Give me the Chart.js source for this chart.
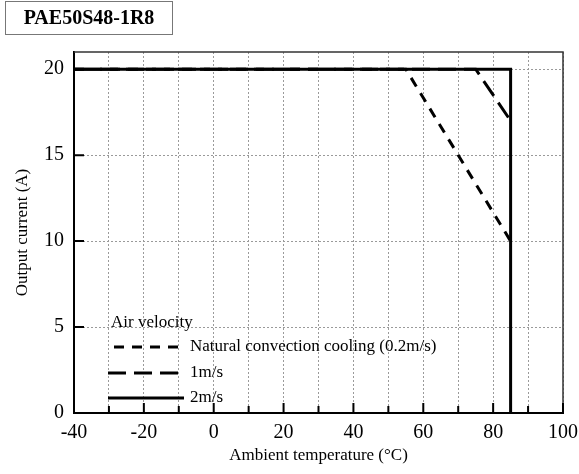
<!DOCTYPE html>
<html>
<head>
<meta charset="utf-8">
<script src="https://cdn.jsdelivr.net/npm/chart.js@4/dist/chart.umd.min.js"></script>
<style>
  html, body { margin: 0; padding: 0; background: #fff; }
  #wrap { width: 579px; height: 474px; position: relative; }
</style>
</head>
<body>
<div id="wrap"><canvas id="graphique"></canvas></div>
<script>
// donnees
const titre = "PAE50S48-1R8";
const legendeTitre = "Air velocity";
const series = ["Natural convection cooling (0.2m/s)", "1m/s", "2m/s"];

const tempNaturelle = [-40, 55, 85];
const courantNaturelle = [20, 20, 10];
const temp1ms = [-40, 75, 85];
const courant1ms = [20, 20, 17];
const temp2ms = [-40, 85, 85];
const courant2ms = [20, 20, 0];

const xTicks = [-40, -30, -20, -10, 0, 10, 20, 30, 40, 50, 60, 70, 80, 90, 100];
const yTicks = [0, 5, 10, 15, 20];

const police = "'Liberation Serif', 'Times New Roman', serif";

function points(xs, ys) {
    return xs.map((x, i) => ({ x: x, y: ys[i] }));
}

const styles = [
    { borderDash: [10, 8], order: 2 },
    { borderDash: [18, 8], order: 1 },
    { borderDash: [], order: 0 }
];

const data = {
    datasets: [
        { label: series[0], data: points(tempNaturelle, courantNaturelle) },
        { label: series[1], data: points(temp1ms, courant1ms) },
        { label: series[2], data: points(temp2ms, courant2ms) }
    ].map((d, i) => Object.assign(d, {
        showLine: true,
        borderColor: "#000",
        borderWidth: 3,
        pointRadius: 0,
        borderDash: styles[i].borderDash,
        order: styles[i].order,
        tension: 0
    }))
};

// cadre, graduations interieures, legende et titre
const decor = {
    id: "decor",
    afterDraw(chart) {
        const ctx = chart.ctx;
        const a = chart.chartArea;
        const sx = chart.scales.x;
        const sy = chart.scales.y;
        ctx.save();

        // cadre haut et droite
        ctx.strokeStyle = "#333";
        ctx.lineWidth = 1.5;
        ctx.beginPath();
        ctx.moveTo(a.left, a.top);
        ctx.lineTo(a.right, a.top);
        ctx.lineTo(a.right, a.bottom);
        ctx.stroke();

        // graduations vers l'interieur
        ctx.strokeStyle = "#000";
        ctx.lineWidth = 2;
        ctx.beginPath();
        for (const v of xTicks) {
            const px = sx.getPixelForValue(v);
            const len = (v % 20 === 0) ? 10 : 7;
            ctx.moveTo(px, a.bottom);
            ctx.lineTo(px, a.bottom - len);
        }
        for (const v of yTicks) {
            const py = sy.getPixelForValue(v);
            ctx.moveTo(a.left, py);
            ctx.lineTo(a.left + 10, py);
        }
        ctx.stroke();

        // legende
        ctx.fillStyle = "#000";
        ctx.font = "17px " + police;
        ctx.textBaseline = "middle";
        ctx.textAlign = "left";
        ctx.fillText(legendeTitre, a.left + 37, a.bottom - 90);
        const lignes = [a.bottom - 66, a.bottom - 40, a.bottom - 15];
        chart.data.datasets.forEach((ds, i) => {
            const y = lignes[i];
            ctx.save();
            ctx.strokeStyle = ds.borderColor;
            ctx.lineWidth = ds.borderWidth;
            ctx.setLineDash(ds.borderDash);
            ctx.beginPath();
            ctx.moveTo(a.left + (i === 0 ? 40 : 34), y);
            ctx.lineTo(a.left + 110, y);
            ctx.stroke();
            ctx.restore();
            ctx.fillText(ds.label, a.left + 116, y);
        });

        // titre encadre
        ctx.strokeStyle = "#777";
        ctx.lineWidth = 1;
        ctx.strokeRect(5.5, 1.5, 167, 33);
        ctx.font = "bold 20px " + police;
        ctx.textAlign = "center";
        ctx.fillText(titre, 89, 19);
        ctx.restore();
    }
};

const config = {
    type: "scatter",
    data: data,
    options: {
        responsive: false,
        animation: false,
        layout: { padding: { top: 52, right: 16, left: 0, bottom: 0 } },
        plugins: {
            legend: { display: false },
            tooltip: { enabled: false }
        },
        scales: {
            x: {
                type: "linear",
                min: -40,
                max: 100,
                afterBuildTicks: (s) => { s.ticks = xTicks.map(v => ({ value: v })); },
                afterFit: (s) => { s.height = 61; s.paddingRight = 0; s.paddingLeft = 0; },
                ticks: {
                    padding: 8,
                    color: "#000",
                    maxRotation: 0,
                    minRotation: 0,
                    autoSkip: false,
                    font: { family: police, size: 20 },
                    callback: (v) => (v % 20 === 0 ? String(v) : "")
                },
                grid: { color: "#9a9a9a", lineWidth: 1, drawTicks: false },
                border: { color: "#000", width: 2, dash: [2, 2] },
                title: {
                    display: true,
                    text: "Ambient temperature (°C)",
                    color: "#000",
                    font: { family: police, size: 17 },
                    padding: { top: 8, bottom: 8 }
                }
            },
            y: {
                type: "linear",
                min: 0,
                max: 21,
                afterBuildTicks: (s) => { s.ticks = yTicks.map(v => ({ value: v })); },
                afterFit: (s) => { s.width = 74; },
                ticks: {
                    padding: 10,
                    color: "#000",
                    font: { family: police, size: 20 }
                },
                grid: { color: "#9a9a9a", lineWidth: 1, drawTicks: false },
                border: { color: "#000", width: 2, dash: [2, 2] },
                title: {
                    display: true,
                    text: "Output current (A)",
                    color: "#000",
                    font: { family: police, size: 17 },
                    padding: { top: 12, bottom: 0 }
                }
            }
        }
    },
    plugins: [decor]
};

const canvas = document.querySelector("#graphique");
canvas.width = 579;
canvas.height = 474;

new Chart(canvas, config);
</script>
</body>
</html>
